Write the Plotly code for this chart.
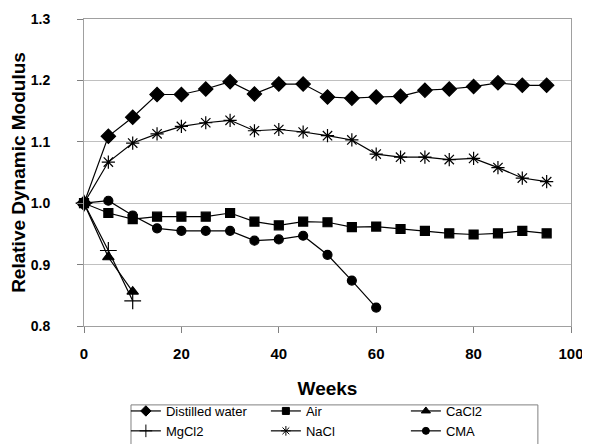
import plotly.graph_objects as go

weeks = list(range(0, 100, 5))

distilled = [1.0, 1.109, 1.140, 1.177, 1.177, 1.186, 1.198, 1.178, 1.194, 1.194,
             1.173, 1.171, 1.173, 1.174, 1.184, 1.186, 1.190, 1.196, 1.192, 1.192]
air = [1.0, 0.984, 0.974, 0.978, 0.978, 0.978, 0.984, 0.970, 0.964, 0.970,
       0.969, 0.961, 0.962, 0.958, 0.955, 0.951, 0.949, 0.951, 0.955, 0.951]
cacl2_weeks = [0, 5, 10]
cacl2 = [1.0, 0.912, 0.856]
mgcl2_weeks = [0, 5, 10]
mgcl2 = [1.0, 0.923, 0.841]
nacl = [1.0, 1.067, 1.098, 1.113, 1.125, 1.131, 1.135, 1.118, 1.120, 1.116,
        1.110, 1.103, 1.080, 1.075, 1.075, 1.071, 1.073, 1.058, 1.041, 1.035]
cma_weeks = list(range(0, 65, 5))
cma = [1.0, 1.004, 0.980, 0.959, 0.955, 0.955, 0.955, 0.939, 0.941, 0.947,
       0.916, 0.874, 0.830]

series = [
    ("Distilled water", weeks, distilled, "diamond", 11, 8),
    ("Air", weeks, air, "square", 9, 7),
    ("CaCl2", cacl2_weeks, cacl2, "triangle-up", 10, 8),
    ("MgCl2", mgcl2_weeks, mgcl2, "cross-thin-open", 12, 9),
    ("NaCl", weeks, nacl, "asterisk-open", 11, 8),
    ("CMA", cma_weeks, cma, "circle", 9, 7),
]

fig = go.Figure()
for name, xs, ys, sym, sz, lsz in series:
    fig.add_trace(go.Scatter(
        x=xs, y=ys, name=name, mode="lines+markers", showlegend=False,
        line=dict(color="black", width=1.2),
        marker=dict(symbol=sym, size=sz, color="black",
                    line=dict(color="black", width=1.2)),
        cliponaxis=False,
    ))
for name, xs, ys, sym, sz, lsz in series:
    fig.add_trace(go.Scatter(
        x=[None], y=[None], name=name, mode="lines+markers", showlegend=True,
        line=dict(color="black", width=1.2),
        marker=dict(symbol=sym, size=lsz, color="black",
                    line=dict(color="black", width=1)),
    ))

# legend frame (box runs off the bottom edge as in the reference)
fig.add_shape(type="rect", xref="paper", yref="paper",
              x0=0.0965, x1=0.932, y0=-0.5, y1=-0.257,
              line=dict(color="#808080", width=1), fillcolor="rgba(0,0,0,0)",
              layer="below")

font_family = "Liberation Sans, Arial, sans-serif"
fig.update_layout(
    width=582, height=436,
    margin=dict(l=76, r=19, t=11, b=118, autoexpand=False),
    paper_bgcolor="white", plot_bgcolor="white",
    font=dict(family=font_family, color="black"),
    showlegend=True,
    legend=dict(
        orientation="h", x=0.086, y=-0.228, xanchor="left", yanchor="top",
        entrywidth=95, entrywidthmode="pixels",
        borderwidth=0, bgcolor="rgba(0,0,0,0)",
        font=dict(size=13, family=font_family),
        itemwidth=30, tracegroupgap=0,
    ),
    xaxis=dict(
        range=[0, 100], dtick=20, tick0=0, showgrid=False,
        showline=True, linecolor="#a0a0a0", linewidth=1, mirror=True,
        ticks="outside", ticklen=6, tickcolor="#808080",
        ticklabelstandoff=8,
        tickfont=dict(size=15, family=font_family, weight="bold"),
        title=dict(text="<b>Weeks</b>", font=dict(size=19, family=font_family), standoff=20),
        zeroline=False,
    ),
    yaxis=dict(
        range=[0.8, 1.3], dtick=0.1, tick0=0.8, tickformat=".1f",
        showgrid=True, gridcolor="#c0c0c0", gridwidth=1,
        showline=True, linecolor="#a0a0a0", linewidth=1, mirror=True,
        ticks="outside", ticklen=6, tickcolor="#808080",
        ticklabelstandoff=24,
        tickfont=dict(size=14, family=font_family, weight="bold"),
        title=dict(text="<b>Relative Dynamic Modulus</b>", font=dict(size=19, family=font_family), standoff=4),
        zeroline=False,
    ),
)

fig.write_html("out.html")
